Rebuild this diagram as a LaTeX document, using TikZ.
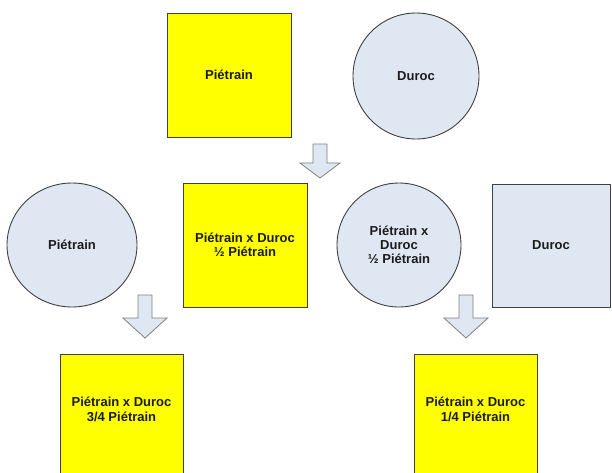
\documentclass[tikz,border=0pt]{standalone}
\usepackage{fontspec}
\setmainfont{Liberation Sans}
\usetikzlibrary{shapes.geometric}
\definecolor{ylw}{HTML}{FFFF00}
\definecolor{lblue}{HTML}{DFE7F2}
\definecolor{edge}{HTML}{404040}
\definecolor{arredge}{HTML}{808080}
\definecolor{txt}{HTML}{1C1C1C}
\tikzset{
  shapebox/.style={draw=edge, line width=0.9pt, inner sep=0pt, align=center,
    font=\fontsize{13}{14}\selectfont\bfseries, text=txt},
  ysq/.style={shapebox, rectangle, fill=ylw, minimum width=124pt, minimum height=124pt},
  bsq/.style={shapebox, rectangle, fill=lblue},
  bcirc/.style={shapebox, ellipse, fill=lblue},
  lbl/.style={inner sep=0pt, align=center, font=\fontsize{13}{15}\selectfont\bfseries, text=txt},
  darrow/.style={draw=arredge, fill=lblue, line width=0.8pt, line join=miter}
}
\begin{document}
\begin{tikzpicture}[x=1pt, y=-1pt]
\clip (0,0) rectangle (612,472);
\fill[white] (0,0) rectangle (612,472);

% top row
\node[ysq] (pt) at (229,75) {Piétrain};
\node[bcirc, minimum width=126pt, minimum height=126pt] (dt) at (416,76) {Duroc};

% middle row
\node[bcirc, minimum width=130pt, minimum height=124pt] (pl) at (72,245) {Piétrain};
\node[ysq] (pd) at (245,245) {Piétrain x Duroc\\½ Piétrain};
\node[bcirc, minimum width=124pt, minimum height=124pt] (pc) at (399,245) {Piétrain x\\Duroc\\½ Piétrain};
\node[bsq, minimum width=118pt, minimum height=123pt] (dr) at (551,245.5) {Duroc};

% bottom row
\node[ysq, minimum width=123pt] (bl) at (121.5,416) {};
\node[lbl] (blt) at (121.5,409) {Piétrain x Duroc\\3/4 Piétrain};
\node[ysq, minimum width=123pt] (br) at (475.5,416) {};
\node[lbl] (brt) at (475.5,409) {Piétrain x Duroc\\1/4 Piétrain};

% arrows
\draw[darrow] (313,144) -- (327,144) -- (327,163) -- (340,163) -- (320,178)
  -- (300,163) -- (313,163) -- cycle;
\draw[darrow] (138,295) -- (152,295) -- (152,318) -- (167,318) -- (145,338)
  -- (123,318) -- (138,318) -- cycle;
\draw[darrow] (459,295) -- (473,295) -- (473,318) -- (488,318) -- (466,338)
  -- (444,318) -- (459,318) -- cycle;
\end{tikzpicture}
\end{document}
